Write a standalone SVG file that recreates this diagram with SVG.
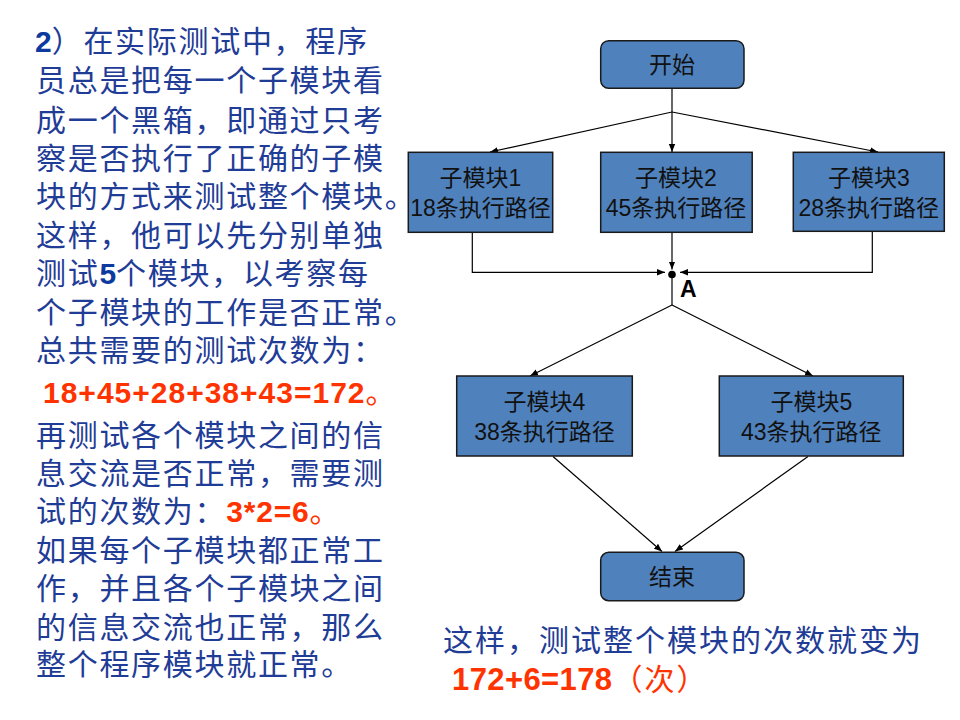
<svg xmlns="http://www.w3.org/2000/svg" width="960" height="720" viewBox="0 0 960 720">
<defs>
<style>
.body{font-family:"Liberation Sans","Noto Sans CJK SC",sans-serif;font-size:30px;fill:#1F3C96;letter-spacing:1.7px}
.num{font-family:"Liberation Sans","Noto Sans CJK SC",sans-serif;font-weight:bold;letter-spacing:0}
.red{fill:#FF3300}
.blue2{fill:#0D3A9E}
.box{fill:#4F81BD;stroke:#1A1A1A;stroke-width:1.5}
.lbl{font-family:"Liberation Sans","Noto Sans CJK SC",sans-serif;font-size:23px;fill:#111;text-anchor:middle}
.con{fill:none;stroke:#000;stroke-width:1.2}
</style>
<marker id="arr" markerUnits="userSpaceOnUse" markerWidth="10" markerHeight="8" refX="8" refY="4" orient="auto">
<path d="M0,0.8 L8,4 L0,7.2 z" fill="#000"/>
</marker>
</defs>
<rect width="960" height="720" fill="#fff"/>

<g id="left-text">
<text class="body" x="35" y="52"><tspan class="num blue2">2</tspan>）在实际测试中，程序</text>
<text class="body" x="36" y="91">员总是把每一个子模块看</text>
<text class="body" x="36" y="131">成一个黑箱，即通过只考</text>
<text class="body" x="36" y="169">察是否执行了正确的子模</text>
<text class="body" x="36" y="207">块的方式来测试整个模块。</text>
<text class="body" x="36" y="245.5">这样，他可以先分别单独</text>
<text class="body" x="36" y="284">测试<tspan class="num blue2">5</tspan>个模块，以考察每</text>
<text class="body" x="36" y="322.5">个子模块的工作是否正常。</text>
<text class="body" x="36" y="361">总共需要的测试次数为：</text>
<text class="body" x="43" y="403"><tspan class="num red" style="letter-spacing:1px">18+45+28+38+43=172</tspan><tspan class="red">。</tspan></text>
<text class="body" x="36" y="446">再测试各个模块之间的信</text>
<text class="body" x="36" y="484">息交流是否正常，需要测</text>
<text class="body" x="36" y="522">试的次数为：<tspan class="num red" style="letter-spacing:0.8px">3*2=6</tspan><tspan class="red">。</tspan></text>
<text class="body" x="36" y="561">如果每个子模块都正常工</text>
<text class="body" x="36" y="599">作，并且各个子模块之间</text>
<text class="body" x="36" y="637.5">的信息交流也正常，那么</text>
<text class="body" x="36" y="674.5">整个程序模块就正常。</text>
</g>

<g id="connectors">
<path class="con" d="M672,88 V112"/>
<path class="con" d="M672,112 L490,152" marker-end="url(#arr)"/>
<path class="con" d="M672,112 V152" marker-end="url(#arr)"/>
<path class="con" d="M672,112 L878,152" marker-end="url(#arr)"/>
<path class="con" d="M472.3,232 V272.3 H665" marker-end="url(#arr)"/>
<path class="con" d="M672,232 V269.5" marker-end="url(#arr)"/>
<path class="con" d="M872.3,232 V272.3 H680" marker-end="url(#arr)"/>
<circle cx="672" cy="274.5" r="3.8" fill="#000"/>
<path class="con" d="M672,278 V305"/>
<path class="con" d="M672,305 L530,376" marker-end="url(#arr)"/>
<path class="con" d="M672,305 L813,376" marker-end="url(#arr)"/>
<path class="con" d="M553,456.5 L662,551.5" marker-end="url(#arr)"/>
<path class="con" d="M808,456.5 L675,551.5" marker-end="url(#arr)"/>
</g>

<g id="start">
<rect class="box" x="600.7" y="40.7" width="143.3" height="47.6" rx="8"/>
<text class="lbl" x="672" y="73">开始</text>
</g>
<g id="sub1">
<rect class="box" x="408.3" y="152.3" width="144.4" height="80"/>
<text class="lbl" x="480.5" y="186">子模块1</text>
<text class="lbl" x="480.5" y="215.5">18条执行路径</text>
</g>
<g id="sub2">
<rect class="box" x="600.7" y="152.3" width="151.5" height="80"/>
<text class="lbl" x="676" y="186">子模块2</text>
<text class="lbl" x="676" y="215.5">45条执行路径</text>
</g>
<g id="sub3">
<rect class="box" x="793.3" y="152.3" width="151" height="79"/>
<text class="lbl" x="868.8" y="186">子模块3</text>
<text class="lbl" x="868.8" y="215.5">28条执行路径</text>
</g>
<g id="junctionA">
<text x="680" y="297" style="font-family:'Liberation Sans',sans-serif;font-size:23px;font-weight:bold;fill:#000">A</text>
</g>
<g id="sub4">
<rect class="box" x="456.7" y="376" width="175.6" height="80"/>
<text class="lbl" x="544.5" y="410">子模块4</text>
<text class="lbl" x="544.5" y="439.5">38条执行路径</text>
</g>
<g id="sub5">
<rect class="box" x="719.3" y="376" width="184" height="80"/>
<text class="lbl" x="811.3" y="410">子模块5</text>
<text class="lbl" x="811.3" y="439.5">43条执行路径</text>
</g>
<g id="end">
<rect class="box" x="600.7" y="552.3" width="143.3" height="48.4" rx="8"/>
<text class="lbl" x="672" y="585">结束</text>
</g>

<g id="bottom-text">
<text class="body" x="443" y="651" style="letter-spacing:2px">这样，测试整个模块的次数就变为</text>
<text class="body" x="452" y="690"><tspan class="num red" style="font-size:31px;letter-spacing:0.4px">172+6=178</tspan><tspan class="red" style="letter-spacing:2px">（次）</tspan></text>
</g>
</svg>
